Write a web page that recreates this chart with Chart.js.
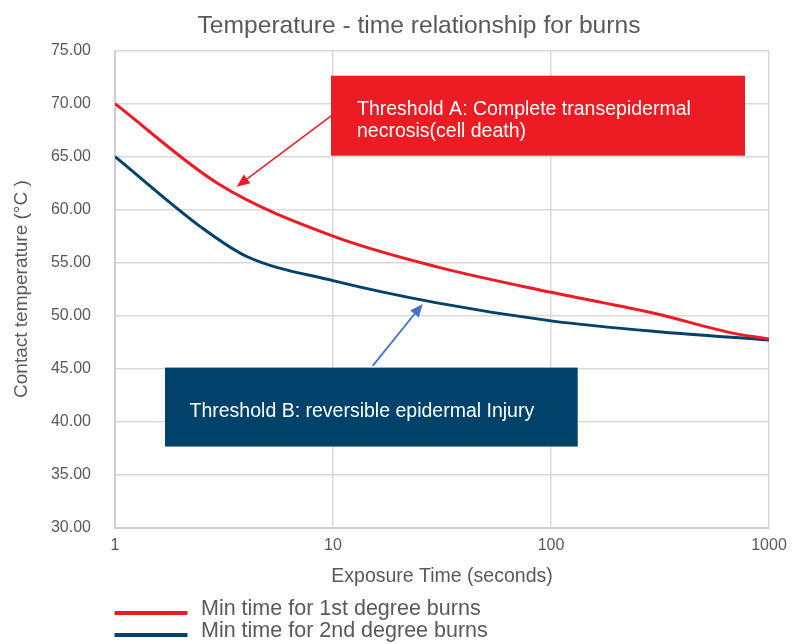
<!DOCTYPE html>
<html><head><meta charset="utf-8">
<script src="https://cdn.jsdelivr.net/npm/chart.js@4.4.1/dist/chart.umd.min.js"></script>
<style>html,body{margin:0;padding:0;background:#fff;}#wrap{width:797px;height:644px;}</style>
</head><body><div id="wrap"><canvas id="c" width="797" height="644"></canvas></div>
<script>
const chartTitle = 'Temperature - time relationship for burns';
const xAxisTitle = 'Exposure Time (seconds)';
const yAxisTitle = 'Contact temperature (°C )';
const seriesLabels = ['Min time for 1st degree burns', 'Min time for 2nd degree burns'];
const firstDegreeTimes  = [1, 3, 10, 30, 100, 300, 700, 1000];
const firstDegreeTemps  = [70, 62.4, 57.5, 54.6, 52.2, 50.2, 48.3, 47.8];
const secondDegreeTimes = [1, 2.5, 4, 10, 30, 100, 300, 1000];
const secondDegreeTemps = [65, 58.3, 55.6, 53.3, 51.2, 49.5, 48.5, 47.7];
const xTickValues = [1, 10, 100, 1000];
const yMin = 30, yMax = 75, yStep = 5;

const boxATexts = ['Threshold A: Complete transepidermal', 'necrosis(cell death)'];
const boxARange = [9.79, 776, 72.64, 65.09];   // x1, x2, y1, y2 (data units)
const boxBTexts = ['Threshold B: reversible epidermal Injury'];
const boxBRange = [1.696, 132.6, 45.09, 37.64];
const arrowA = [9.84, 68.87, 3.616, 62.17];    // from x,y -> to x,y (data units)
const arrowB = [15.21, 45.25, 25.79, 51.1];

const RED = '#ED1C24', BLUE = '#01426A', ARROW_BLUE = '#4472C4', TEXT = '#595959';
const FONT = "'Liberation Sans', Arial, sans-serif";

function toPoints(xs, ys) { return xs.map((v, i) => ({x: v, y: ys[i]})); }

function drawArrow(ctx, x0, y0, x1, y1, color, lw) {
  const ang = Math.atan2(y1 - y0, x1 - x0);
  const hl = 13, hw = 5.5;
  const bx = x1 - hl * Math.cos(ang), by = y1 - hl * Math.sin(ang);
  ctx.save();
  ctx.strokeStyle = color; ctx.fillStyle = color; ctx.lineWidth = lw;
  ctx.beginPath(); ctx.moveTo(x0, y0); ctx.lineTo(bx, by); ctx.stroke();
  ctx.beginPath();
  ctx.moveTo(x1, y1);
  ctx.lineTo(bx + hw * Math.sin(ang), by - hw * Math.cos(ang));
  ctx.lineTo(bx - hw * Math.sin(ang), by + hw * Math.cos(ang));
  ctx.closePath(); ctx.fill();
  ctx.restore();
}

function drawBox(ctx, xs, ys, range, texts, fill, padX, firstBaseline, lineGap) {
  const l = xs.getPixelForValue(range[0]), r = xs.getPixelForValue(range[1]);
  const t = ys.getPixelForValue(range[2]), b = ys.getPixelForValue(range[3]);
  ctx.save();
  ctx.fillStyle = fill;
  ctx.fillRect(l, t, r - l, b - t);
  ctx.fillStyle = '#ffffff';
  ctx.font = '19.5px ' + FONT;
  ctx.textAlign = 'left'; ctx.textBaseline = 'alphabetic';
  texts.forEach((s, i) => ctx.fillText(s, l + padX, t + firstBaseline + i * lineGap));
  ctx.restore();
}

const overlay = {
  id: 'overlay',
  afterDatasetsDraw(chart) {
    const {ctx} = chart; const xs = chart.scales.x, ys = chart.scales.y;
    const px = v => xs.getPixelForValue(v), py = v => ys.getPixelForValue(v);
    drawArrow(ctx, px(arrowA[0]), py(arrowA[1]), px(arrowA[2]), py(arrowA[3]), RED, 1.5);
    drawArrow(ctx, px(arrowB[0]), py(arrowB[1]), px(arrowB[2]), py(arrowB[3]), ARROW_BLUE, 1.8);
    drawBox(ctx, xs, ys, boxARange, boxATexts, RED, 26, 39.5, 22);
    drawBox(ctx, xs, ys, boxBRange, boxBTexts, BLUE, 24.5, 49, 22);
  },
  afterDraw(chart) {
    const {ctx} = chart;
    ctx.save();
    ctx.fillStyle = TEXT;
    ctx.font = '24.6px ' + FONT;
    ctx.textAlign = 'center'; ctx.textBaseline = 'alphabetic';
    ctx.fillText(chartTitle, 419, 33.3);
    const ds = chart.data.datasets;
    const rows = [613, 635];
    ds.forEach((d, i) => {
      ctx.strokeStyle = d.borderColor; ctx.lineWidth = 4; ctx.lineCap = 'butt';
      ctx.beginPath(); ctx.moveTo(114.5, rows[i]); ctx.lineTo(187.5, rows[i]); ctx.stroke();
      ctx.fillStyle = TEXT; ctx.font = '21.5px ' + FONT;
      ctx.textAlign = 'left'; ctx.textBaseline = 'middle';
      ctx.fillText(d.label, 201, rows[i] - 4);
    });
    ctx.restore();
  }
};

new Chart(document.getElementById('c'), {
  type: 'line',
  data: {
    datasets: [
      {label: seriesLabels[0], data: toPoints(firstDegreeTimes, firstDegreeTemps), borderColor: RED, borderWidth: 3,
       pointRadius: 0, cubicInterpolationMode: 'monotone', fill: false},
      {label: seriesLabels[1], data: toPoints(secondDegreeTimes, secondDegreeTemps), borderColor: BLUE, borderWidth: 3,
       pointRadius: 0, cubicInterpolationMode: 'monotone', fill: false}
    ]
  },
  options: {
    responsive: false, animation: false, devicePixelRatio: 1,
    layout: {padding: {top: 50.7, right: 28, bottom: 52.5, left: 0}},
    plugins: {legend: {display: false}, title: {display: false}, tooltip: {enabled: false}},
    scales: {
      x: {
        type: 'logarithmic', min: xTickValues[0], max: xTickValues[xTickValues.length - 1],
        afterBuildTicks: s => { s.ticks = xTickValues.map(v => ({value: v})); },
        afterFit: s => { s.height = 64; },
        ticks: {color: TEXT, font: {family: FONT, size: 16}, padding: 8.5, maxRotation: 0,
                callback: v => String(v)},
        grid: {color: '#d9d9d9', lineWidth: 1.5, drawTicks: false},
        border: {color: '#cfcfcf', width: 2},
        title: {display: true, text: xAxisTitle, color: TEXT, font: {family: FONT, size: 19.5}, padding: {top: 0, bottom: 3.5}}
      },
      y: {
        min: yMin, max: yMax,
        afterFit: s => { s.width = 115; },
        ticks: {stepSize: yStep, color: TEXT, font: {family: FONT, size: 16}, padding: 24,
                callback: v => Number(v).toFixed(2)},
        grid: {color: '#d9d9d9', lineWidth: 1.5, drawTicks: false},
        border: {color: '#cfcfcf', width: 2},
        title: {display: true, text: yAxisTitle, color: TEXT, font: {family: FONT, size: 19}, padding: {top: 10, bottom: 0}}
      }
    }
  },
  plugins: [overlay]
});
</script></body></html>
